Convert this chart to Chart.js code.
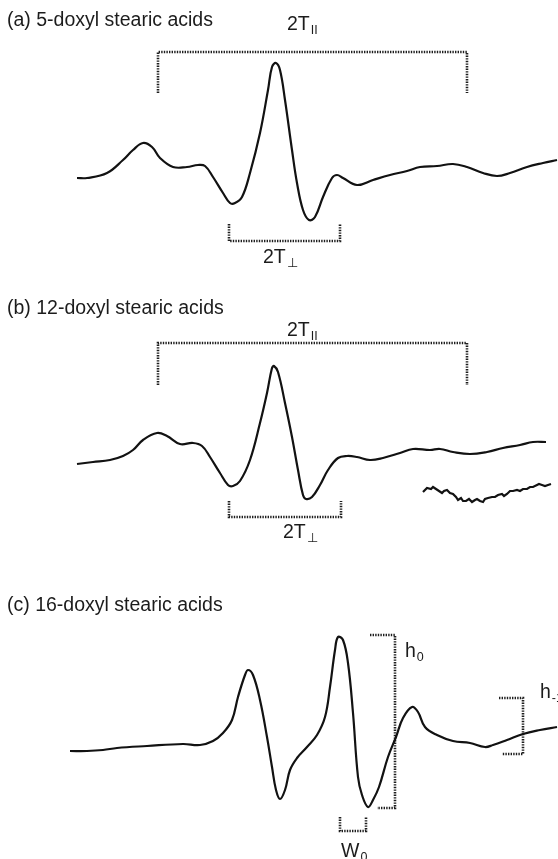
<!DOCTYPE html>
<html>
<head>
<meta charset="utf-8">
<script src="https://cdn.jsdelivr.net/npm/chart.js@4.4.1/dist/chart.umd.min.js"></script>
<style>
  body { margin: 0; background: #fff; }
  canvas { position: absolute; left: 0; }
</style>
</head>
<body>
<canvas id="pa" width="558" height="290" style="top:0;width:558px;height:290px"></canvas>
<canvas id="pb" width="558" height="290" style="top:290px;width:558px;height:290px"></canvas>
<canvas id="pc" width="558" height="279" style="top:580px;width:558px;height:279px"></canvas>
<script>
// (a) 5-doxyl spectrum : field (arb.) / signal (arb., baseline 0)
const aField = [77,87,107,123,133,143,152,160,173,187,198,205,213,223,230,235,242,250,260,268,272,276,280,285,292,297,303,309,315,323,332,337,343,357,373,390,407,420,437,453,467,483,497,510,527,543,557];
const aSignal = [2,2,7,20,30,37,33,22,13,13,15,14,3,-13,-23,-23,-17,7,47,90,113,117,110,80,30,-3,-30,-40,-37,-17,2,5,2,-5,0,5,9,13,14,16,13,7,4,7,13,17,20];
const aParField = [158,158,467,467];
const aParSignal = [87,128,128,87];
const aPerpField = [229,229,340,340];
const aPerpSignal = [-44,-61,-61,-44];

// (b) 12-doxyl spectrum
const bField = [77,93,110,123,133,143,157,167,180,193,202,210,220,228,233,240,250,260,267,272,274,278,285,292,298,303,306,312,320,328,338,347,357,370,383,400,413,430,440,453,470,487,503,520,533,546];
const bSignal = [-4,-2,0,4,10,20,27,24,16,17,14,3,-13,-25,-26,-21,0,37,67,92,94,88,57,23,-10,-35,-39,-37,-25,-10,2,4,3,0,2,7,11,10,11,8,6,8,12,15,18,18];
// expanded high-field segment (noisy)
const bNoiseField = [423,427,431,433,436,439,442,444,447,450,453,456,458,461,463,466,469,472,475,477,480,483,485,488,492,495,498,502,504,507,510,513,517,520,523,527,530,533,537,539,542,545,548,551];
const bNoiseSignal = [-32,-28,-29,-27,-29,-31,-33,-31,-30,-33,-34,-37,-40,-38,-41,-41,-39,-42,-40,-39,-41,-42,-39,-38,-37,-37,-35,-34,-36,-34,-31,-31,-30,-31,-29,-29,-27,-27,-25,-24,-25,-26,-25,-24];
const bParField = [158,158,467,467];
const bParSignal = [75,117,117,75];
const bPerpField = [229,229,341,341];
const bPerpSignal = [-41,-57,-57,-41];

// (c) 16-doxyl spectrum
const cField = [70,87,103,117,147,183,200,213,223,232,238,245,248,253,260,267,272,276,280,285,290,297,307,317,325,330,335,338,343,348,353,358,362,368,373,379,388,396,403,412,418,425,437,453,470,485,493,507,523,540,557];
const cSignal = [-1,-1,0,2,4,6,5,9,17,30,53,75,80,75,50,13,-17,-40,-49,-40,-20,-8,3,15,33,63,100,113,110,87,37,-27,-45,-57,-50,-37,-7,13,32,43,38,23,15,9,7,3,5,10,16,20,23];
const h0Field = [370,395,395,377];
const h0Signal = [115,115,-58,-58];
const w0Field = [340,340,366,366];
const w0Signal = [-67,-81,-81,-67];
const hm1Field = [499,523,523,502];
const hm1Signal = [52,52,-4,-4];

const FONT = '"Liberation Sans", Arial, sans-serif';

const pts = (xs, ys) => xs.map((x, i) => ({ x: x, y: ys[i] }));

function trace(xs, ys, extra) {
  return Object.assign({
    data: pts(xs, ys), borderColor: '#121212', borderWidth: 2.2,
    pointRadius: 0, fill: false, tension: 0.4
  }, extra || {});
}
function bracket(xs, ys) {
  return { data: pts(xs, ys), borderColor: '#1e1e1e', borderWidth: 2.6,
    borderDash: [1.4, 1.2], pointRadius: 0, fill: false, tension: 0 };
}

// titles and bracket labels
const textPlugin = {
  id: 'texts',
  afterDraw(chart, args, o) {
    const ctx = chart.ctx, sx = chart.scales.x, sy = chart.scales.y;
    ctx.save();
    ctx.fillStyle = '#1c1c1c';
    ctx.textBaseline = 'alphabetic';
    ctx.font = '19.5px ' + FONT;
    ctx.fillText(o.title, 7, o.titleY);
    (o.labels || []).forEach(l => {
      const px = sx.getPixelForValue(l.x), py = sy.getPixelForValue(l.y);
      ctx.font = '19.5px ' + FONT;
      ctx.fillText(l.main, px, py);
      const w = ctx.measureText(l.main).width;
      ctx.font = '12.5px ' + FONT;
      ctx.fillText(l.sub, px + w + 1, py + 4);
    });
    ctx.restore();
  }
};

function makePanel(id, datasets, yMin, yMax, texts) {
  return new Chart(document.getElementById(id), {
    type: 'line',
    data: { datasets: datasets },
    options: {
      responsive: false,
      animation: false,
      layout: { padding: 0 },
      scales: {
        x: { type: 'linear', min: 0, max: 558, display: false },
        y: { min: yMin, max: yMax, display: false }
      },
      plugins: { legend: { display: false }, tooltip: { enabled: false }, texts: texts }
    },
    plugins: [textPlugin]
  });
}

makePanel('pa', [
  trace(aField, aSignal),
  bracket(aParField, aParSignal),
  bracket(aPerpField, aPerpSignal)
], -110, 180, {
  title: '(a) 5-doxyl stearic acids', titleY: 26,
  labels: [
    { main: '2T', sub: 'II', x: 287, y: 150 },
    { main: '2T', sub: '\u22A5', x: 263, y: -83 }
  ]
});

makePanel('pb', [
  trace(bField, bSignal),
  trace(bNoiseField, bNoiseSignal, { tension: 0, borderWidth: 2.2 }),
  bracket(bParField, bParSignal),
  bracket(bPerpField, bPerpSignal)
], -120, 170, {
  title: '(b) 12-doxyl stearic acids', titleY: 24,
  labels: [
    { main: '2T', sub: 'II', x: 287, y: 124 },
    { main: '2T', sub: '\u22A5', x: 283, y: -78 }
  ]
});

makePanel('pc', [
  trace(cField, cSignal),
  bracket(h0Field, h0Signal),
  bracket(w0Field, w0Signal),
  bracket(hm1Field, hm1Signal)
], -109, 170, {
  title: '(c) 16-doxyl stearic acids', titleY: 31,
  labels: [
    { main: 'h', sub: '0', x: 405, y: 93 },
    { main: 'h', sub: '-1', x: 540, y: 52 },
    { main: 'W', sub: '0', x: 341, y: -107 }
  ]
});
</script>
</body>
</html>
